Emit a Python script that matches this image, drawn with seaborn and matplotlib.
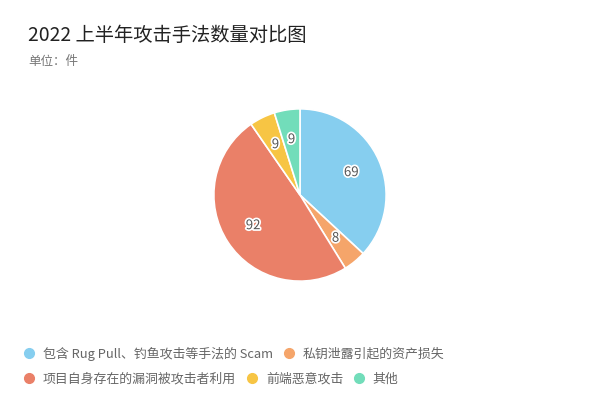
import matplotlib
matplotlib.use("Agg")
import matplotlib.pyplot as plt
import matplotlib.patheffects as pe
from matplotlib.lines import Line2D
import seaborn as sns

categories = ["包含 Rug Pull、钓鱼攻击等手法的 Scam", "私钥泄露引起的资产损失",
              "项目自身存在的漏洞被攻击者利用", "前端恶意攻击", "其他"]
values = [69, 8, 92, 9, 9]
colors = ["#86CEEF", "#F5A56A", "#EA8068", "#F7C544", "#72DDBA"]
title = "2022 上半年攻击手法数量对比图"
subtitle = "单位：件"

sns.set_theme(style="white")
plt.rcParams['font.family'] = ['Noto Sans CJK SC', 'DejaVu Sans']

W, H = 600, 403
fig = plt.figure(figsize=(W / 100, H / 100), dpi=100)
fig.patch.set_facecolor("white")

cx, cy, r = 300, 195, 87
ax = fig.add_axes([(cx - r) / W, (H - cy - r) / H, 2 * r / W, 2 * r / H])
wedges, texts = ax.pie(values, colors=colors, startangle=90, counterclock=False,
                       labels=[str(v) for v in values], labeldistance=0.65,
                       wedgeprops=dict(edgecolor="white", linewidth=1.2),
                       textprops=dict(fontsize=9.5, color="#555555"))
for t in texts:
    t.set_ha("center")
    t.set_va("center")
    t.set_path_effects([pe.withStroke(linewidth=2.5, foreground="white")])
ax.set_xlim(-1.01, 1.01)
ax.set_ylim(-1.01, 1.01)
ax.set_aspect("equal")
ax.axis("off")

fig.text(28 / W, 1 - 35 / H, title, fontsize=13.9, color="#222222", va="center", ha="left")
fig.text(28 / W, 1 - 61 / H, subtitle, fontsize=9, color="#777777", va="center", ha="left")

def handles(idx):
    return [Line2D([0], [0], marker="o", linestyle="", markersize=7,
                   markerfacecolor=colors[i], markeredgecolor=colors[i]) for i in idx]

leg_kw = dict(frameon=False, loc="center left", handletextpad=0.55, handlelength=1.0,
              borderaxespad=0, borderpad=0, prop=dict(size=9.3))
l1 = fig.legend(handles([0, 1]), [categories[i] for i in [0, 1]], ncol=2,
                bbox_to_anchor=(23 / W, 1 - 354 / H), columnspacing=0.75, **leg_kw)
l2 = fig.legend(handles([2, 3, 4]), [categories[i] for i in [2, 3, 4]], ncol=3,
                bbox_to_anchor=(23 / W, 1 - 379 / H), columnspacing=0.75, **leg_kw)
for l in (l1, l2):
    for t in l.get_texts():
        t.set_color("#666666")

fig.savefig("out.png", dpi=100, facecolor="white")
